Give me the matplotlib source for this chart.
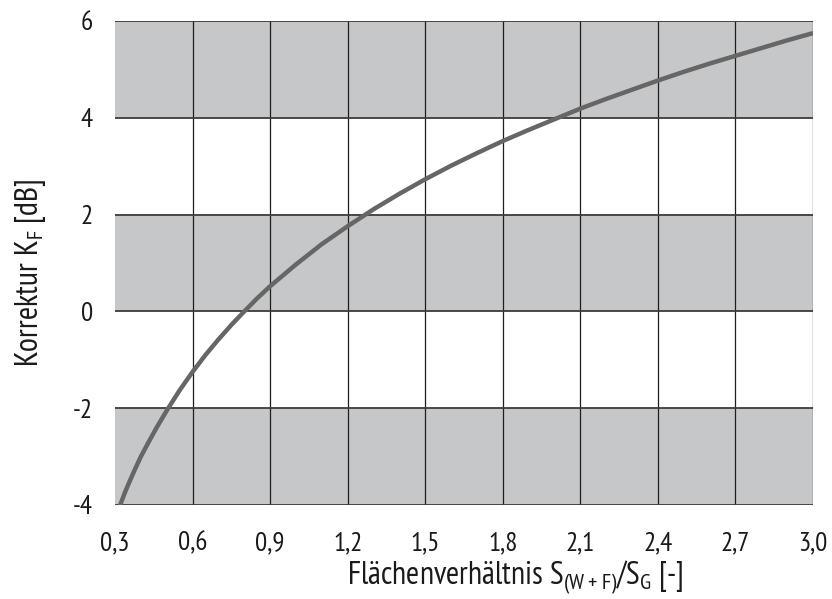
import matplotlib
matplotlib.use('Agg')
import matplotlib.pyplot as plt

# curve
flaechen = [0.32, 0.34, 0.36, 0.38, 0.40, 0.43, 0.46, 0.50, 0.55, 0.60, 0.65, 0.70,
            0.75, 0.80, 0.85, 0.90, 1.00, 1.10, 1.20, 1.30, 1.40, 1.50, 1.60, 1.70,
            1.80, 1.90, 2.00, 2.10, 2.20, 2.30, 2.40, 2.50, 2.60, 2.70, 2.80, 2.90, 3.00]
korrektur = [-4.0, -3.72, -3.47, -3.23, -3.0, -2.7, -2.41, -2.05, -1.63, -1.25, -0.9, -0.58,
             -0.28, 0.0, 0.27, 0.52, 0.97, 1.39, 1.76, 2.11, 2.43, 2.73, 3.01, 3.27,
             3.52, 3.75, 3.97, 4.19, 4.39, 4.58, 4.77, 4.95, 5.12, 5.28, 5.44, 5.6, 5.75]

x_ticks = [0.3, 0.6, 0.9, 1.2, 1.5, 1.8, 2.1, 2.4, 2.7, 3.0]
x_labels = ['0,3', '0,6', '0,9', '1,2', '1,5', '1,8', '2,1', '2,4', '2,7', '3,0']
y_ticks = [-4, -2, 0, 2, 4, 6]
grey_bands = [(-4, -2), (0, 2), (4, 6)]

plt.rcParams['font.family'] = ['PT Sans Narrow', 'DejaVu Sans']
plt.rcParams['mathtext.default'] = 'regular'

fig = plt.figure(figsize=(8.32, 5.99), dpi=100)
ax = fig.add_axes([115 / 832, 1 - 505 / 599, 698 / 832, 484 / 599])

# grey bands
for lo, hi in grey_bands:
    ax.axhspan(lo, hi, color='#c6c7c9', lw=0, zorder=0)

# grid lines
for xv in x_ticks[1:]:
    ax.axvline(xv, color='#1e1e1e', lw=0.9, zorder=1)
for yv in y_ticks:
    ax.axhline(yv, color='#3c3c3c', lw=1.3, zorder=1)

ax.plot(flaechen, korrektur, color='#666666', lw=3.2, solid_capstyle='butt', zorder=3)

ax.set_xlim(0.3, 3.0)
ax.set_ylim(-4, 6)
ax.set_xticks(x_ticks)
ax.set_xticklabels(x_labels)
ax.set_yticks(y_ticks)
ax.set_yticklabels([str(v) for v in y_ticks])
ax.tick_params(length=0, labelsize=19.5, colors='#1a1a1a')
ax.tick_params(axis='x', pad=19)
ax.tick_params(axis='y', pad=16)
for s in ax.spines.values():
    s.set_visible(False)

ax.set_xlabel('Flächenverhältnis S$_{(W+F)}$/S$_G$ [-]', fontsize=23, color='#1a1a1a',
              labelpad=2, x=0.573)
ax.set_ylabel('Korrektur K$_F$ [dB]', fontsize=23, color='#1a1a1a', labelpad=18, y=0.48)

fig.savefig('out.png', dpi=100)
